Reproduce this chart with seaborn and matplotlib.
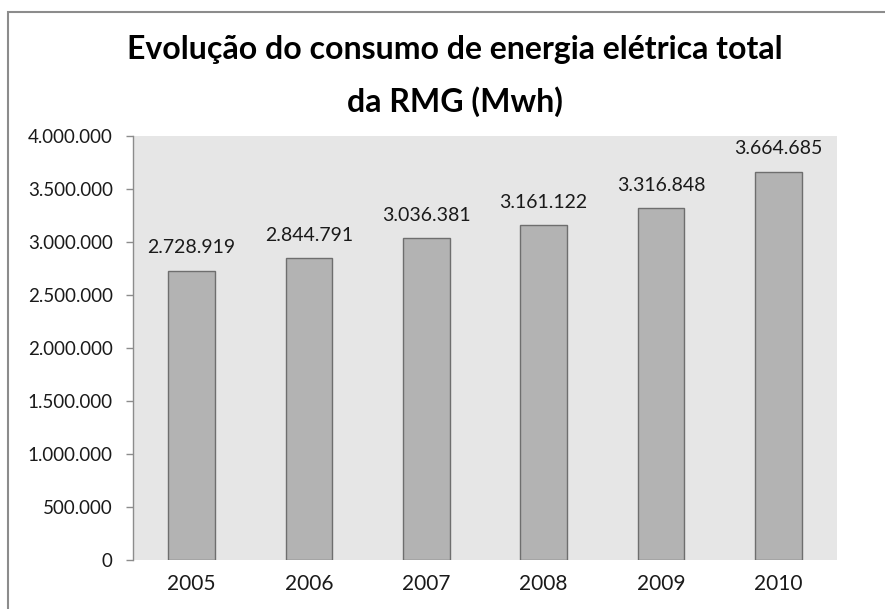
import matplotlib
matplotlib.use("Agg")
import matplotlib.pyplot as plt
import matplotlib.ticker as mticker
from matplotlib.patches import Rectangle
import pandas as pd
import seaborn as sns

anos = ["2005", "2006", "2007", "2008", "2009", "2010"]
consumo = [2728919, 2844791, 3036381, 3161122, 3316848, 3664685]
y_ticks = [0, 500000, 1000000, 1500000, 2000000, 2500000, 3000000, 3500000, 4000000]

titulo_linhas = ["Evolução do consumo de energia elétrica total", "da RMG (Mwh)"]

W, H = 885, 609


def fmt_br(v):
    return f"{int(round(v)):,}".replace(",", ".")


sns.set_theme(style="white")
plt.rcParams["font.family"] = ["Lato", "DejaVu Sans"]

df = pd.DataFrame({"ano": anos, "consumo": consumo})

fig = plt.figure(figsize=(W / 100, H / 100), dpi=100)
fig.patch.set_facecolor("white")

# outer frame of the chart area (left and top edges visible)
fig.add_artist(Rectangle((8 / W, -0.05), 1.2, (H - 12) / H + 0.05,
                         transform=fig.transFigure, fill=False,
                         edgecolor="#8c8c8c", linewidth=1.5))

ax = fig.add_axes([133 / W, (H - 560) / H, (837 - 133) / W, (560 - 136) / H])
ax.set_facecolor("#e6e6e6")

sns.barplot(data=df, x="ano", y="consumo", ax=ax, color="#b3b3b3",
            edgecolor="#6e6e6e", linewidth=1.0, width=0.4, saturation=1)

ax.set_ylim(0, 4000000)
ax.set_xlim(-0.5, len(anos) - 0.5)
ax.set_yticks(y_ticks)
ax.yaxis.set_major_formatter(mticker.FuncFormatter(lambda v, p: fmt_br(v)))
ax.set_xlabel("")
ax.set_ylabel("")

for s in ["top", "right", "bottom"]:
    ax.spines[s].set_visible(False)
ax.spines["left"].set_color("#8c8c8c")
ax.spines["left"].set_linewidth(1.0)

ax.tick_params(axis="y", which="major", left=True, length=5, width=1,
               color="#8c8c8c", labelsize=13.5, labelcolor="#1a1a1a", pad=9.5)
ax.tick_params(axis="x", bottom=False, labelsize=15, labelcolor="#1a1a1a", pad=4)

for i, v in enumerate(consumo):
    ax.annotate(fmt_br(v), (i, v), xytext=(0, 12.5), textcoords="offset points",
                ha="center", va="baseline", fontsize=14, color="#1a1a1a")

# two-line title with baselines placed explicitly
for linha, base_px in zip(titulo_linhas, [59, 112]):
    fig.text(455 / W, 1 - base_px / H, linha, ha="center", va="baseline",
             fontsize=23, fontweight="bold", color="black")

fig.savefig("out.png", dpi=100)
